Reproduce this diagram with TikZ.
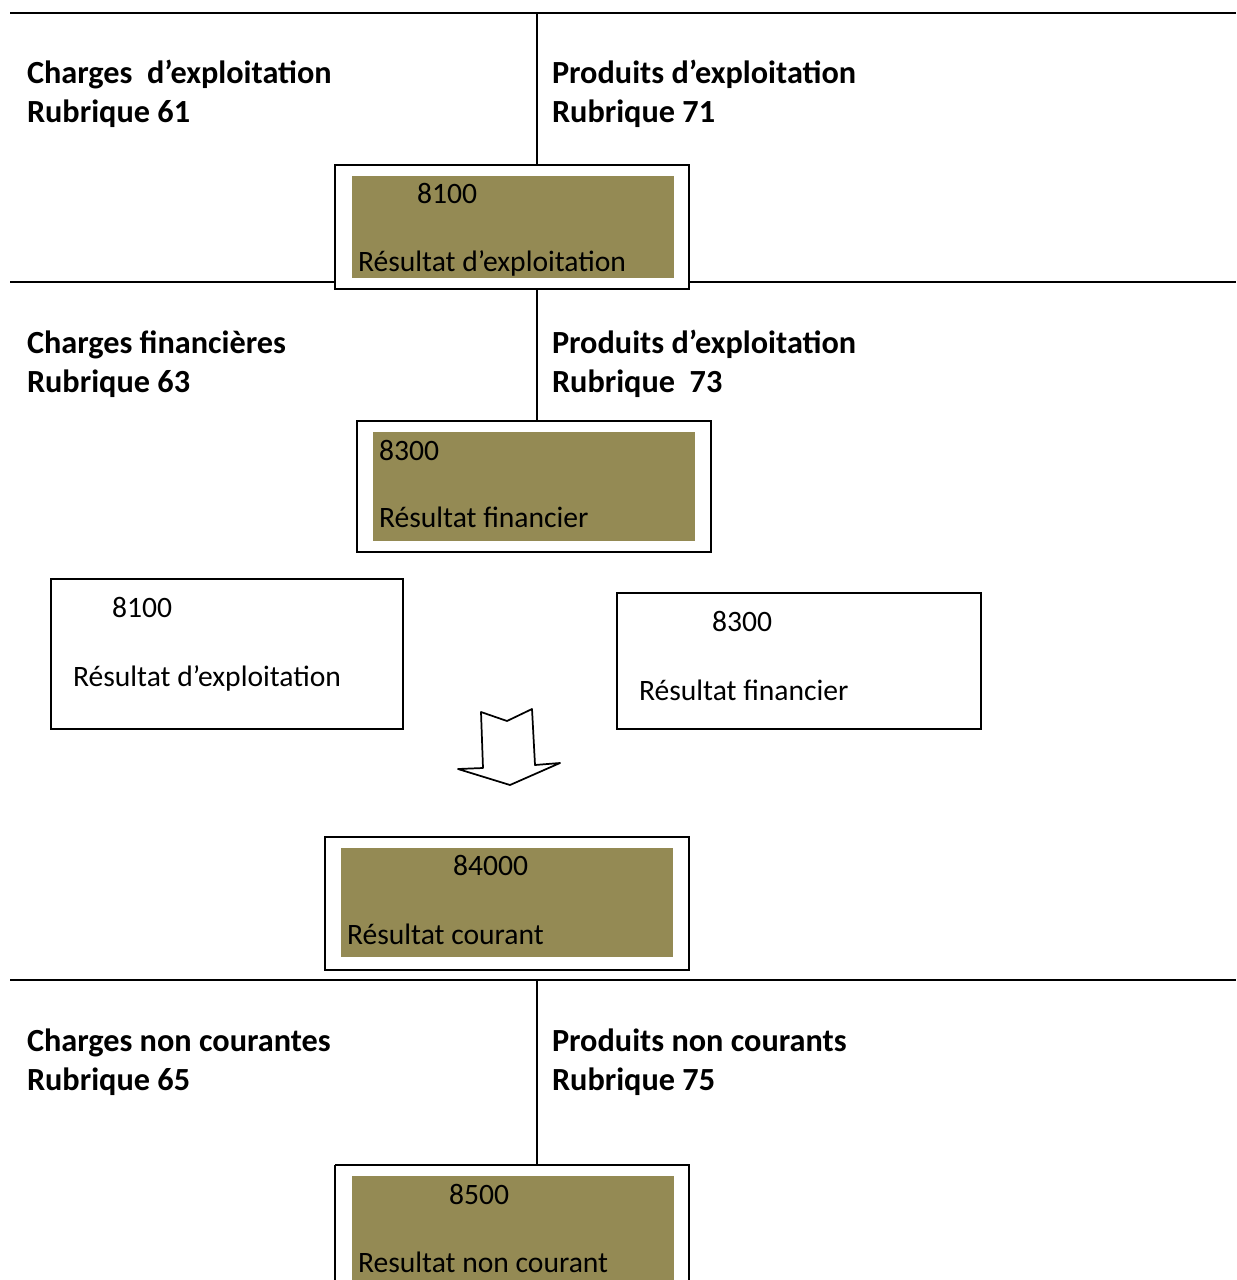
\documentclass[tikz,border=0pt]{standalone}
\usepackage{fontspec}
\setmainfont{Carlito}
\definecolor{olive}{HTML}{948A54}
\begin{document}
\begin{tikzpicture}[x=0.75pt,y=-0.75pt,line width=1.5pt,
  outer/.style={draw=black,fill=white},
  inner/.style={fill=olive,draw=none},
  hd/.style={anchor=base west,inner sep=0pt,font=\fontsize{24.2}{28}\selectfont\bfseries},
  tx/.style={anchor=base west,inner sep=0pt,font=\fontsize{22.2}{26}\selectfont}]
\useasboundingbox (0,0) rectangle (1236,1280);
\fill[white] (0,0) rectangle (1236,1280);
% T account 1
\draw (10,13) -- (1236,13);
\draw (537,13) -- (537,165);
\node[hd] (c61a) at (26,84) {Charges\ \ d’exploitation};
\node[hd] (c61b) at (26,123) {Rubrique 61};
\node[hd] (p71a) at (551,84) {Produits d’exploitation};
\node[hd] (p71b) at (551,123) {Rubrique 71};
\draw (10,282) -- (335,282);
\draw (689,282) -- (1236,282);
\draw[outer] (335,165) rectangle (689,289);
\fill[inner] (352,176) rectangle (674,278);
\node[tx] (n8100) at (416,204) {8100};
\node[tx] (r8100) at (357,272) {Résultat d’exploitation};
% T account 2
\draw (537,289) -- (537,421);
\node[hd] (c63a) at (26,353) {Charges financières};
\node[hd] (c63b) at (26,392) {Rubrique 63};
\node[hd] (p73a) at (551,353) {Produits d’exploitation};
\node[hd] (p73b) at (551,392) {Rubrique\ \ 73};
\draw[outer] (357,421) rectangle (711,552);
\fill[inner] (373,432) rectangle (695,541);
\node[tx] (n8300) at (378,460) {8300};
\node[tx] (r8300) at (378,527) {Résultat financier};
% white boxes
\draw[outer] (51,579) rectangle (403,729);
\node[tx] (w8100) at (111,617) {8100};
\node[tx] (wr8100) at (72,686) {Résultat d’exploitation};
\draw[outer] (617,593) rectangle (981,729);
\node[tx] (w8300) at (711,631) {8300};
\node[tx] (wr8300) at (638,700) {Résultat financier};
% arrow
\draw[line width=1.3pt,line join=round,fill=white] (481,712) -- (507,721) -- (532,709) -- (535,765) -- (560,763) -- (510,785) -- (458,769) -- (483,768) -- cycle;
% courant
\draw[outer] (325,837) rectangle (689,970);
\fill[inner] (341,848) rectangle (673,957);
\node[tx] (n84000) at (452,875) {84000};
\node[tx] (r84000) at (346,944) {Résultat courant};
% T account 3
\draw (10,980) -- (1236,980);
\draw (537,980) -- (537,1165);
\node[hd] (c65a) at (26,1051) {Charges non courantes};
\node[hd] (c65b) at (26,1090) {Rubrique 65};
\node[hd] (p75a) at (551,1051) {Produits non courants};
\node[hd] (p75b) at (551,1090) {Rubrique 75};
\draw[outer] (335,1165) -- (335,1290) (335,1165) -- (689,1165) -- (689,1290);
\fill[inner] (352,1176) rectangle (674,1290);
\node[tx] (n8500) at (448,1204) {8500};
\node[tx] (r8500) at (357,1272) {Resultat non courant};
\end{tikzpicture}
\end{document}
